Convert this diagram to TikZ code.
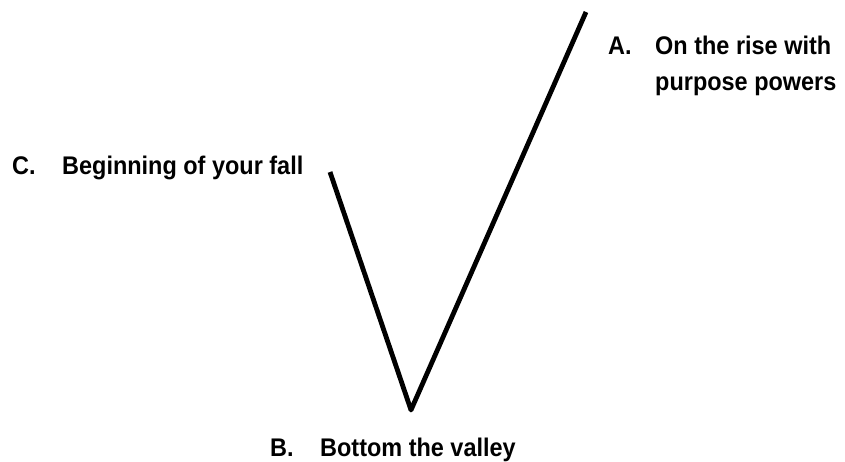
\documentclass[tikz,border=0pt]{standalone}
\usepackage{fontspec}
\setmainfont[FakeStretch=0.92]{Liberation Sans}
\begin{document}
\begin{tikzpicture}[x=1pt,y=-1pt,
  lab/.style={anchor=base west,inner sep=0pt,font=\fontsize{25.5}{30}\selectfont\bfseries},
  vline/.style={line width=4.8pt,line join=round,line cap=butt}]
\useasboundingbox (0,0) rectangle (845,462);
\coordinate (c) at (330,172);
\coordinate (b) at (411,410);
\coordinate (a) at (586,12);
\draw[vline] (c) -- (b) -- (a);
\node[lab] (labC) at (12,175) {\makebox[50pt][l]{C.}Beginning of your fall};
\node[lab] (labA) at (608,55) {\makebox[47pt][l]{A.}On the rise with};
\node[lab] (labA2) at (655,91) {purpose powers};
\node[lab] (labB) at (270,456) {\makebox[50pt][l]{B.}Bottom the valley};
\end{tikzpicture}
\end{document}
